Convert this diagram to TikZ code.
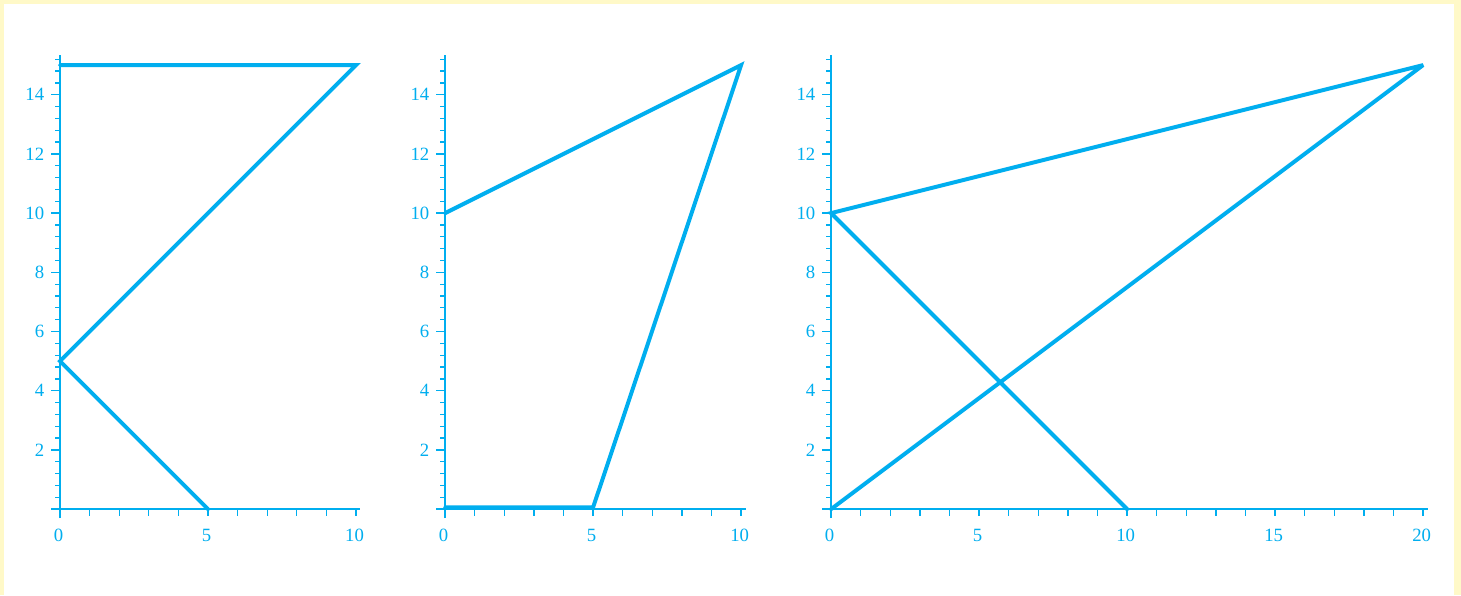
\documentclass[tikz,border=0pt]{standalone}
\usepackage{fontspec}
\setmainfont{Liberation Serif}
\definecolor{plotcyan}{RGB}{0,174,239}
\definecolor{panelcream}{RGB}{255,249,200}
\begin{document}
\begin{tikzpicture}[x=0.5cm, y=0.5cm,
  axisline/.style={draw=plotcyan, line width=0.7pt},
  tickline/.style={draw=plotcyan, line width=0.6pt},
  dataline/.style={draw=plotcyan, line width=1.9pt, line cap=round, line join=miter, miter limit=4},
  ticklabel/.style={text=plotcyan, font=\fontsize{9}{10}\selectfont, inner sep=0pt}]
% page and panel
\fill[panelcream] (-2.027,-2.905) rectangle (47.33,17.2);
\useasboundingbox (-2.027,-2.905) rectangle (47.33,17.2);
\fill[white] (-1.892,-2.905) rectangle (47.09,17.06);
% axes of the three plots
\foreach \ox/\xmax [count=\plotnum] in {0/10, 13.01/10, 26.05/20} {
  \begin{scope}[shift={(\ox,0)}]
    \draw[axisline] (-0.3,0) -- (\xmax+0.15,0);
    \draw[axisline] (0,-0.3) -- (0,15.35);
    \foreach \t in {1,...,38}
      \draw[tickline] (0,\t*0.4) -- (-0.17,\t*0.4);
    \foreach \t in {2,4,...,14} {
      \draw[tickline] (0,\t) -- (-0.3,\t);
      \node[ticklabel, anchor=east] (p\plotnum-y\t) at (-0.52,\t) {\t};
    }
    \foreach \t in {1,...,\xmax}
      \draw[tickline] (\t,0) -- (\t,-0.22);
    \foreach \t in {0,5,...,\xmax}
      \node[ticklabel, anchor=north] (p\plotnum-x\t) at (\t-0.05,-0.66) {\t};
  \end{scope}
}
% data
\draw[dataline] (0,15) -- (10,15) -- (0,5) -- (5,0);
\begin{scope}[shift={(13.01,0)}]
  \draw[dataline] (0,10) -- (10,15) -- (5,0.06) -- (0,0.06);
\end{scope}
\begin{scope}[shift={(26.05,0)}]
  \draw[dataline] (0,0) -- (20,15) -- (0,10) -- (10,0);
\end{scope}
\end{tikzpicture}
\end{document}
